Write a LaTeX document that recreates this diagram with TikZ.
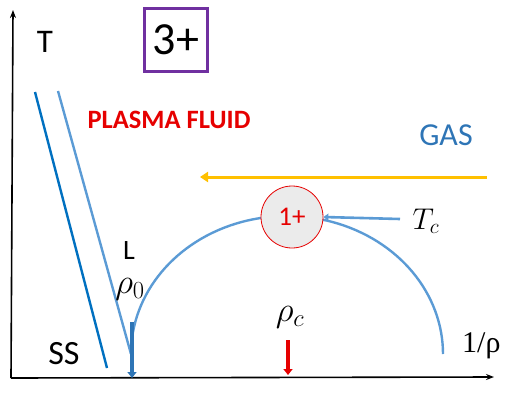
\RequirePackage{fix-cm}
\documentclass[tikz,border=0pt]{standalone}
\usepackage{fontspec}
\setmainfont{Carlito}
\newfontfamily\serifrm{Liberation Serif}
\usetikzlibrary{arrows.meta}
\definecolor{ssblue}{RGB}{0,112,192}
\definecolor{lblue}{RGB}{91,155,213}
\definecolor{dblue}{RGB}{46,117,182}
\definecolor{gasblue}{RGB}{46,117,182}
\definecolor{pred}{RGB}{230,0,0}
\definecolor{yell}{RGB}{255,192,0}
\definecolor{purp}{RGB}{112,48,160}
\definecolor{cfill}{RGB}{235,235,235}
\tikzset{
  axis/.style={line width=1.6pt, -{Stealth[length=8pt,width=6pt]}},
  phase/.style={line width=2.4pt},
  label/.style={inner sep=0pt},
  bigarrow/.style={line width=4pt, -{Triangle[length=6pt,width=9pt]}},
}
\begin{document}
\begin{tikzpicture}[x=1pt,y=-1pt]
\useasboundingbox (0,0) rectangle (505,412);
\clip (0,0) rectangle (505,412);
% axes
\coordinate (o) at (11,378);
\coordinate (ytop) at (13,10);
\coordinate (xend) at (494,377);
\draw[axis] (o) -- (ytop);
\draw[axis] (o) -- (xend);
% lines
\coordinate (ssTop) at (35,92);
\coordinate (ssBot) at (107,368);
\coordinate (lTop) at (58,91);
\coordinate (lBot) at (131,354);
\draw[phase, ssblue] (ssTop) -- (ssBot);
\draw[phase, lblue] (lTop) -- (lBot);
% coexistence curve
\draw[phase, lblue] plot[domain=180:360, samples=80] ({287+156*cos(\x)}, {354+138*sin(\x)});
% critical point
\node[circle, draw=pred, line width=0.8pt, fill=cfill, minimum size=62pt, inner sep=0pt,
      text=pred, font=\fontsize{27}{27}\selectfont] (cp) at (292,217) {1+};
% Tc
\node[label, font=\fontsize{30}{30}\selectfont] (tc) at (426,221) {$T_c$};
\coordinate (tcStart) at (400,219);
\draw[line width=2.6pt, lblue, -{Triangle[length=5pt,width=7pt]}] (tcStart) -- (cp.east);
% gas arrow
\coordinate (gasR) at (487,177);
\coordinate (gasL) at (200,177);
\draw[line width=3pt, yell, -{Triangle[length=8pt,width=10pt]}] (gasR) -- (gasL);
% bottom arrows
\coordinate (r0top) at (132,322);
\coordinate (r0bot) at (132,378);
\draw[bigarrow, dblue] (r0top) -- (r0bot);
\coordinate (rctop) at (288,340);
\coordinate (rcbot) at (288,375);
\draw[bigarrow, pred] (rctop) -- (rcbot);
% texts
\node[label, font=\fontsize{33}{33}\selectfont] (T) at (45,42) {T};
\node[draw=purp, line width=2.2pt, minimum width=63pt, minimum height=63pt, inner sep=0pt,
      font=\fontsize{46}{46}\selectfont] (three) at (176,40) {3+};
\node[label, text=pred, font=\fontsize{26.5}{26.5}\selectfont\bfseries] (plasma) at (169,120) {PLASMA FLUID};
\node[label, text=gasblue, font=\fontsize{32}{32}\selectfont] (gas) at (446,135) {GAS};
\node[label, font=\fontsize{28}{28}\selectfont] (L) at (129,251) {L};
\node[label, font=\fontsize{35}{35}\selectfont] (rho0) at (130,289) {$\rho_0$};
\node[label, font=\fontsize{35}{35}\selectfont] (rhoc) at (290,317) {$\rho_c$};
\node[label, font=\fontsize{34}{34}\selectfont] (SS) at (64,354) {SS};
\node[label, anchor=west, font=\fontsize{30}{30}\selectfont\serifrm] (invrho) at (462,346) {1/ρ};
\end{tikzpicture}
\end{document}
